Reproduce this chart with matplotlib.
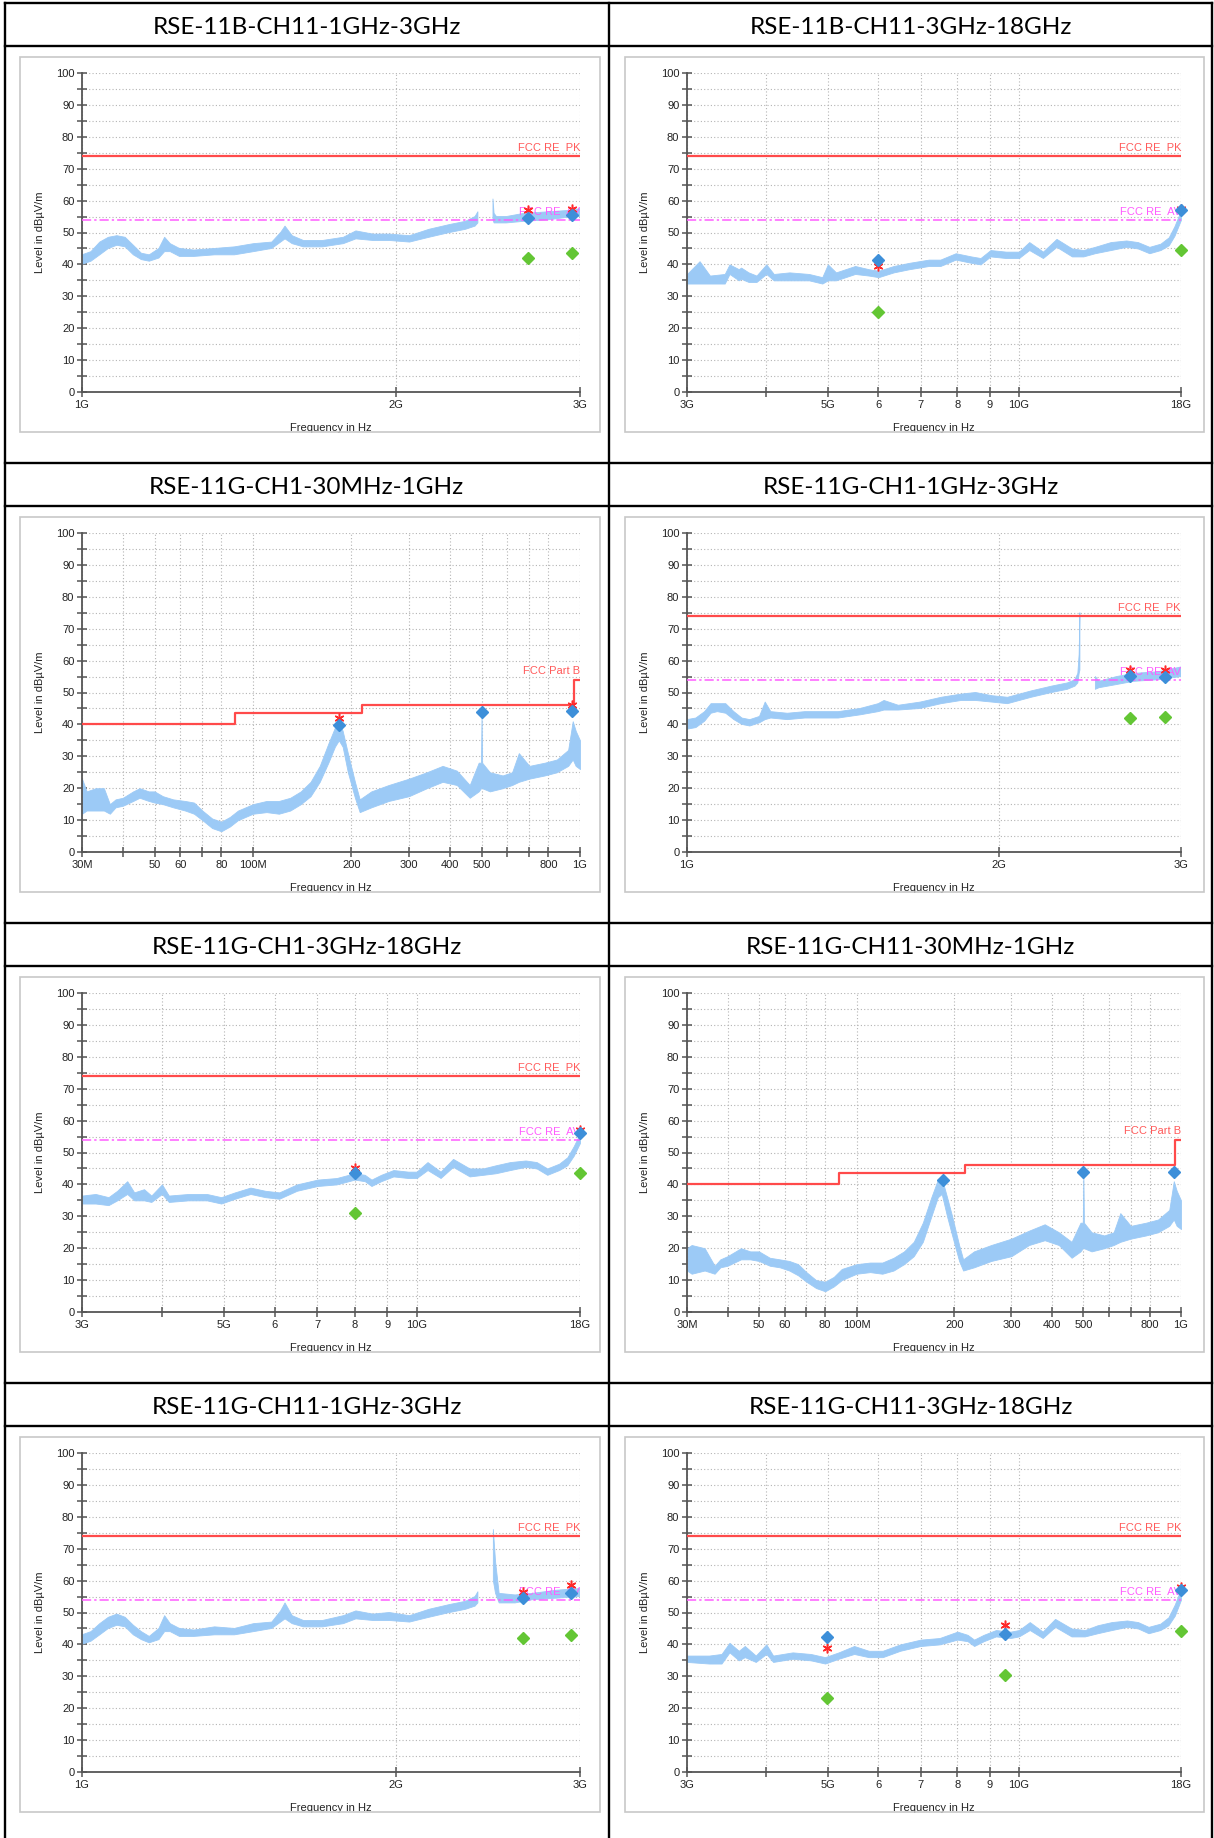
import numpy as np
import matplotlib.pyplot as plt
from matplotlib.patches import Rectangle
from matplotlib.lines import Line2D
from matplotlib.ticker import FixedLocator, FixedFormatter, MultipleLocator, NullLocator

nan = np.nan

# ---------------- data (frequencies in MHz, levels in dBuV/m) ----------------
# RSE-11B-CH11-1GHz-3GHz
a_freq = [1000, 1020, 1040, 1060, 1080, 1100, 1120, 1140, 1160, 1185, 1200, 1215, 1240, 1280,
          1340, 1400, 1460, 1520, 1550, 1565, 1590, 1630, 1700, 1780, 1830, 1900, 1970, 2060,
          2150, 2250, 2330, 2380, 2395, 2400, 2470, 2476, 2482, 2495, 2550, 2650, 2800, 2950, 3000]
a_lo = [40, 41, 43, 45, 46, 45.5, 43, 41.5, 41, 42, 44, 44, 42.5, 42.5,
        43, 43, 44, 45, 47, 48, 46.5, 45.5, 45.5, 46.5, 48, 47.5, 47.5, 47,
        48.5, 50, 51, 52, 53, nan, nan, 54, 53, 53, 53, 53.5, 54, 55, 55]
a_hi = [43, 44, 47, 48.5, 49, 48.5, 46, 43.5, 43, 45, 48.5, 46.5, 45, 44.5,
        45, 45.5, 46.5, 47, 50, 52, 49, 47.5, 47.5, 48.5, 50.5, 49.5, 49.5, 49,
        51, 52.5, 53.5, 55, 56.5, nan, nan, 60.5, 56, 55, 55, 56, 56.5, 57, 57.5]
a_blue = ([2673, 2947], [54.5, 55.5])
a_star = ([2673, 2947], [57, 57.5])
a_green = ([2673, 2947], [42, 43.5])

# RSE-11B-CH11-3GHz-18GHz
b_freq = [3000, 3140, 3260, 3440, 3500, 3620, 3650, 3750, 3860, 4000, 4110, 4350, 4670, 4900,
          5000, 5150, 5520, 5800, 6010, 6350, 6720, 7210, 7520, 7950, 8410, 8700, 9020, 9540,
          10000, 10380, 10910, 11460, 12120, 12630, 13170, 13950, 14760, 15390, 16050, 16710,
          17220, 17580, 18000]
b_lo = [34, 34, 34, 34, 37, 35, 35.5, 34.5, 34.5, 37, 35, 35, 35, 34,
        35, 35, 37, 36.5, 36, 37.5, 38.5, 39.5, 39.5, 41.5, 40.5, 40, 42.5, 42,
        42, 44.5, 42, 45.5, 42.5, 42.5, 43.5, 44.5, 45.5, 45, 43.5, 44.5,
        46, 49, 54]
b_hi = [37, 41, 36.5, 37, 40, 38.5, 39, 37.5, 36.5, 40, 37, 37.5, 37, 36,
        40, 37.5, 39.5, 38.5, 38, 39.5, 40.5, 41.5, 41.5, 43.5, 42.5, 42, 44.5, 44,
        44, 47, 44, 48, 45, 44.5, 45.5, 47, 47.5, 47, 45.5, 46.5,
        48.5, 52, 57]
b_blue = ([6000, 18000], [41.3, 57])
b_star = ([6000, 18000], [39.5, 57.5])
b_green = ([6000, 18000], [25, 44.5])

# RSE-11G-CH1-30MHz-1GHz
c_freq = [30, 31, 33, 35, 36.5, 38, 40, 43, 45, 48, 50, 53, 57, 62, 66, 70, 75, 80, 85, 90,
          100, 110, 120, 130, 140, 150, 160, 170, 178, 183, 188, 195, 205, 212, 230, 260, 300,
          340, 380, 420, 460, 490, 498, 500, 502, 530, 580, 620, 650, 700, 780, 850, 920, 950,
          970, 1000]
c_lo = [12, 13, 13, 13, 12, 14, 14.5, 16, 17, 16, 15.5, 15, 14, 13, 12, 10, 7.5, 6.5, 8, 10,
        12, 12.5, 12, 13, 15, 17.5, 22, 28, 33, 35, 33, 25, 17, 12.5, 14, 16, 17.5,
        20, 22, 21, 17, 19, 20, 20, 20, 19, 20, 21, 22, 23, 24, 25, 27, 29,
        27, 26]
c_hi = [23, 19, 20, 20, 15, 16.5, 17, 19, 20, 19, 19, 17.5, 16.5, 16, 15.5, 13, 10.5, 9.5, 11, 13,
        15, 16, 16, 17, 19, 22, 27, 34, 39, 41, 38, 31, 22, 16.5, 19, 21, 23,
        25, 27, 25.5, 21, 28, 28, 43, 28, 25, 24, 25, 31, 27, 28, 29, 32, 41,
        38, 35]
c_blue = ([183, 500, 948], [39.7, 43.8, 44.2])
c_star = ([183, 948], [42, 46])
c_green = ([], [])

# RSE-11G-CH1-1GHz-3GHz
d_freq = [1000, 1020, 1040, 1055, 1070, 1090, 1110, 1130, 1150, 1175, 1190, 1205, 1250, 1300,
          1400, 1470, 1530, 1550, 1600, 1680, 1760, 1840, 1900, 1970, 2040, 2150, 2250, 2330,
          2370, 2385, 2392, 2396, 2398, 2475, 2480, 2500, 2600, 2700, 2850, 3000]
d_lo = [38.5, 39, 41, 43.5, 44, 43.5, 41.5, 40, 39.5, 40.5, 41.5, 42, 41.5, 42,
        42, 43, 44, 44.5, 44.5, 45, 46.5, 47.5, 47.5, 47, 46.5, 48.5, 50, 51,
        52, 53, 56, 57, nan, nan, 51, 51.5, 52.5, 53.5, 54, 55]
d_hi = [41.5, 42, 44, 46.5, 46.5, 46.5, 44, 42, 41.5, 42.5, 47, 44, 43.5, 44,
        44, 45, 46.5, 47.5, 46, 47, 48.5, 49.5, 50, 49, 48.5, 50.5, 52, 53,
        54, 56, 62, 75, nan, nan, 55, 53.5, 55, 56, 56.5, 58]
d_blue = ([2680, 2895], [55.3, 54.8])
d_star = ([2680, 2895], [57, 57])
d_green = ([2680, 2895], [42, 42.3])

# RSE-11G-CH1-3GHz-18GHz
e_freq = [3000, 3150, 3300, 3405, 3530, 3620, 3750, 3850, 4000, 4100, 4400, 4700, 4950, 5200,
          5500, 5800, 6100, 6500, 7000, 7500, 8000, 8300, 8500, 8800, 9200, 9700, 10000,
          10400, 10900, 11400, 12100, 12700, 13300, 14000, 14800, 15400, 16000, 16700,
          17200, 17600, 18000]
e_lo = [34, 34, 33.5, 35, 37, 35, 35, 34.5, 37, 34.5, 35, 35, 34, 35.5,
        37, 36, 35.5, 38, 39.5, 40, 41.5, 41, 39.5, 41, 42.5, 42, 42,
        44.5, 42, 45.5, 42.5, 43, 43.5, 44.5, 45.5, 45, 43, 44.5,
        46, 49, 53]
e_hi = [36.5, 37, 36, 38, 41, 37.5, 38.5, 36.5, 40, 36.5, 37, 37, 36, 37.5,
        39, 38, 37.5, 40, 41.5, 42, 43.5, 43, 41.5, 43, 44.5, 44, 44,
        47, 44, 48, 45, 45, 46, 47, 47.5, 47, 45, 46.5,
        48.5, 52, 56]
e_blue = ([8020, 18000], [43.5, 56])
e_star = ([8020, 18000], [45, 57])
e_green = ([8020, 18000], [31, 43.5])

# RSE-11G-CH11-30MHz-1GHz
f_freq = [30, 31, 34, 36.5, 38, 40, 44, 47, 50, 54, 58, 62, 66, 70, 75, 80, 85, 90, 100, 110,
          120, 130, 140, 150, 160, 170, 178, 183, 190, 197, 207, 213, 230, 260, 300, 340, 380,
          420, 460, 490, 498, 500, 502, 530, 580, 620, 650, 700, 780, 850, 920, 950, 970, 1000]
f_lo = [13, 12, 13, 12, 14, 14.5, 16.5, 16.5, 16, 14.5, 14, 13, 11.5, 9.5, 7.5, 6.5, 8, 10, 12,
        12.5, 12, 13, 15, 17.5, 22, 30, 36, 37, 30, 24, 16, 13, 14, 16, 17.5, 21, 22.5,
        21, 17, 19, 20, 20, 20, 19, 20, 21, 22, 23, 24, 25, 27, 29, 27, 26]
f_hi = [20, 21, 20, 14.5, 16.5, 17.5, 20, 19, 19, 17, 16.5, 16, 15, 12.5, 10, 9.5, 11, 13.5, 15,
        15.5, 15.5, 17, 19, 22, 28, 36, 41.5, 42, 36, 30, 21, 16.5, 19, 21, 23, 25.5, 27.5,
        25, 22, 28, 28, 43.5, 28, 25, 24, 25, 31, 27, 28, 29, 32, 41, 38, 35]
f_blue = ([184, 500, 951], [41.5, 43.8, 43.8])
f_star = ([], [])
f_green = ([], [])

# RSE-11G-CH11-1GHz-3GHz
g_freq = [1000, 1020, 1040, 1060, 1080, 1100, 1120, 1140, 1160, 1185, 1200, 1215, 1240, 1280,
          1340, 1400, 1460, 1520, 1550, 1565, 1590, 1630, 1700, 1780, 1830, 1900, 1970, 2060,
          2150, 2250, 2330, 2380, 2395, 2400, 2470, 2478, 2490, 2510, 2600, 2700, 2850, 3000]
g_lo = [40, 41, 43, 45, 46, 45.5, 43, 41.5, 40.5, 41.5, 44, 44, 42.5, 42.5,
        43, 43, 44, 45, 47, 48, 46.5, 45.5, 45.5, 46.5, 48, 47.5, 47.5, 47,
        48.5, 50, 51, 52, 53, nan, nan, 60, 56, 53, 53, 54, 54.5, 55]
g_hi = [43, 44, 46.5, 48.5, 49.5, 48.5, 46, 44, 42.5, 45, 49, 46.5, 45, 44.5,
        45.5, 45, 46.5, 47, 50.5, 53, 49, 47.5, 47.5, 49, 50.5, 49.5, 50, 49,
        51, 52.5, 53.5, 55, 56.5, nan, nan, 76, 66, 56, 55.5, 56, 57, 57.5]
g_blue = ([2645, 2940], [54.5, 56])
g_star = ([2645, 2940], [56.5, 58.5])
g_green = ([2645, 2940], [42, 43])

# RSE-11G-CH11-3GHz-18GHz
h_freq = [3000, 3250, 3400, 3500, 3620, 3700, 3850, 4000, 4100, 4400, 4700, 4950, 5200, 5500,
          5800, 6100, 6500, 7000, 7500, 8000, 8300, 8500, 8800, 9200, 9700, 10000, 10400,
          10900, 11400, 12100, 12700, 13300, 14000, 14800, 15400, 16000, 16700, 17200,
          17600, 18000]
h_lo = [34.5, 34, 34, 37.5, 35, 36, 34.5, 37, 34.5, 35.5, 35, 34, 35.5, 37,
        36, 36, 38, 39.5, 40, 41.5, 41, 39.5, 41, 42.5, 42, 42.5, 44.5,
        42, 45.5, 42.5, 42.5, 43.5, 44.5, 45.5, 45, 43.5, 44.5, 46,
        49, 54]
h_hi = [36.5, 36.5, 37, 40.5, 38, 39.5, 36.5, 40, 36.5, 37.5, 37, 36, 37.5, 39.5,
        38, 38, 40, 41.5, 42, 44, 43, 41.5, 43, 44.5, 44, 44.5, 47,
        44, 48, 45, 44.5, 46, 47, 47.5, 47, 45.5, 46.5, 48.5,
        52.5, 57.5]
h_blue = ([4990, 9490, 18000], [42.3, 43.3, 57.2])
h_star = ([4990, 9490, 18000], [38.8, 46, 58])
h_green = ([4990, 9490, 18000], [23.2, 30.5, 44.3])

titles = ['RSE-11B-CH11-1GHz-3GHz', 'RSE-11B-CH11-3GHz-18GHz',
          'RSE-11G-CH1-30MHz-1GHz', 'RSE-11G-CH1-1GHz-3GHz',
          'RSE-11G-CH1-3GHz-18GHz', 'RSE-11G-CH11-30MHz-1GHz',
          'RSE-11G-CH11-1GHz-3GHz', 'RSE-11G-CH11-3GHz-18GHz']
bands = ['1-3G', '3-18G', '30M-1G', '1-3G', '3-18G', '30M-1G', '1-3G', '3-18G']

# FCC Part B class B limit steps (MHz, dBuV/m)
partb_freq = [30, 88, 88, 216, 216, 960, 960, 1000]
partb_level = [40, 40, 43.5, 43.5, 46, 46, 54, 54]
pk_limit = 74
av_limit = 54

traces = [(a_freq, a_lo, a_hi, a_blue, a_star, a_green),
          (b_freq, b_lo, b_hi, b_blue, b_star, b_green),
          (c_freq, c_lo, c_hi, c_blue, c_star, c_green),
          (d_freq, d_lo, d_hi, d_blue, d_star, d_green),
          (e_freq, e_lo, e_hi, e_blue, e_star, e_green),
          (f_freq, f_lo, f_hi, f_blue, f_star, f_green),
          (g_freq, g_lo, g_hi, g_blue, g_star, g_green),
          (h_freq, h_lo, h_hi, h_blue, h_star, h_green)]

xaxes = {
    '1-3G': ((1000, 3000), [1000, 2000, 3000], ['1G', '2G', '3G']),
    '3-18G': ((3000, 18000), [3000, 4000, 5000, 6000, 7000, 8000, 9000, 10000, 18000],
              ['3G', '', '5G', '6', '7', '8', '9', '10G', '18G']),
    '30M-1G': ((30, 1000), [30, 40, 50, 60, 70, 80, 100, 200, 300, 400, 500, 600, 700, 800, 1000],
               ['30M', '', '50', '60', '', '80', '100M', '200', '300', '400', '500', '', '', '800', '1G']),
}

TRACE = '#9ccaf6'
BLUE = '#3d8fd9'
GREEN = '#63c634'
RED = '#ff4a4a'
MAG = '#ff5cff'
AXC = '#555555'

# ---------------- layout (pixels) ----------------
W, H = 1214, 1838
ROW_TOP = [3, 463, 923, 1383]
COL_X = [4.5, 609, 1212]
AX_LEFT = [82, 687]
AX_W = [498, 494]
BOX = [(20, 600), (625, 1204)]


def fx(px):
    return px / W


def fy(py):
    return 1 - py / H


fig = plt.figure(figsize=(W / 100, H / 100), dpi=100)
fig.patch.set_facecolor('white')

# table borders
for y in ROW_TOP:
    for yy in (y, y + 43):
        fig.add_artist(Line2D([fx(COL_X[0]), fx(COL_X[2])], [fy(yy), fy(yy)],
                              transform=fig.transFigure, color='black', lw=1.7))
for x in COL_X:
    fig.add_artist(Line2D([fx(x), fx(x)], [fy(ROW_TOP[0]), 0],
                          transform=fig.transFigure, color='black', lw=1.7))

for i, (title, band, tr) in enumerate(zip(titles, bands, traces)):
    row, col = i // 2, i % 2
    top = ROW_TOP[row]
    freq, lo, hi, blue, star, green = tr

    cx = (COL_X[col] + COL_X[col + 1]) / 2
    fig.text(fx(cx), fy(top + 24), title, ha='center', va='center',
             fontsize=17.5, family='Lato', color='black')

    bx0, bx1 = BOX[col]
    fig.add_artist(Rectangle((fx(bx0), fy(top + 429)), (bx1 - bx0) / W, 375 / H,
                             transform=fig.transFigure, fill=False,
                             ec='#c8c8c8', lw=1.2))

    ax = fig.add_axes([fx(AX_LEFT[col]), fy(top + 389), AX_W[col] / W, 319 / H])
    ax.set_facecolor('white')
    ax.set_xscale('log')
    (x0, x1), ticks, labels = xaxes[band]
    ax.set_xlim(x0, x1)
    ax.set_ylim(0, 100)
    ax.xaxis.set_major_locator(FixedLocator(ticks))
    ax.xaxis.set_major_formatter(FixedFormatter(labels))
    ax.xaxis.set_minor_locator(NullLocator())
    ax.yaxis.set_major_locator(MultipleLocator(10))
    ax.yaxis.set_minor_locator(MultipleLocator(5))

    for s in ('top', 'right'):
        ax.spines[s].set_visible(False)
    for s in ('left', 'bottom'):
        ax.spines[s].set_color(AXC)
        ax.spines[s].set_linewidth(1.3)
    ax.tick_params(which='both', direction='inout', length=7, width=1.1, color=AXC,
                   labelsize=8, labelcolor='#222222', pad=2)
    ax.grid(True, which='both', axis='y', ls=(0, (1, 2)), color='#b4b4b4', lw=0.8)
    ax.grid(True, which='major', axis='x', ls=(0, (1, 2)), color='#b4b4b4', lw=0.8)
    ax.set_axisbelow(True)
    for lab in ax.get_xticklabels() + ax.get_yticklabels():
        lab.set_family('Liberation Sans')

    ax.set_xlabel('Frequency in Hz', fontsize=8, family='Liberation Sans', color='#222222')
    ax.set_ylabel('Level in dB\u00b5V/m', fontsize=8, family='Liberation Sans', color='#222222')
    ax.xaxis.set_label_coords(0.5, -31 / 319)
    ax.yaxis.set_label_coords(-37 / AX_W[col], 0.5)

    # measured spectrum envelope
    ax.fill_between(freq, lo, hi, color=TRACE, lw=0.6, ec=TRACE, zorder=2)

    # limits
    if band == '30M-1G':
        ax.plot(partb_freq, partb_level, color=RED, lw=1.6, zorder=3)
        ax.text(x1, 55.2, 'FCC Part B', ha='right', va='bottom', fontsize=8,
                family='Liberation Sans', color='#ff5a5a', zorder=3)
    else:
        ax.plot([x0, x1], [pk_limit, pk_limit], color=RED, lw=1.6, zorder=3)
        ax.plot([x0, x1], [av_limit, av_limit], color=MAG, lw=1.1,
                ls=(0, (6, 2, 1.5, 2)), zorder=3)
        ax.text(x1, pk_limit + 0.8, 'FCC RE  PK', ha='right', va='bottom', fontsize=8,
                family='Liberation Sans', color='#ff5a5a', zorder=3)
        ax.text(x1, av_limit + 0.8, 'FCC RE  AV', ha='right', va='bottom', fontsize=8,
                family='Liberation Sans', color=MAG, zorder=3)

    # final measurement markers
    ax.plot(star[0], star[1], ls='none', marker=(6, 2, 0), ms=7, mew=1.1,
            color='#ff2a2a', zorder=4, clip_on=False)
    ax.plot(blue[0], blue[1], ls='none', marker='D', ms=6.5, color=BLUE, zorder=5,
            clip_on=False)
    ax.plot(green[0], green[1], ls='none', marker='D', ms=6.5, color=GREEN, zorder=5,
            clip_on=False)

fig.savefig('out.png', dpi=100)
